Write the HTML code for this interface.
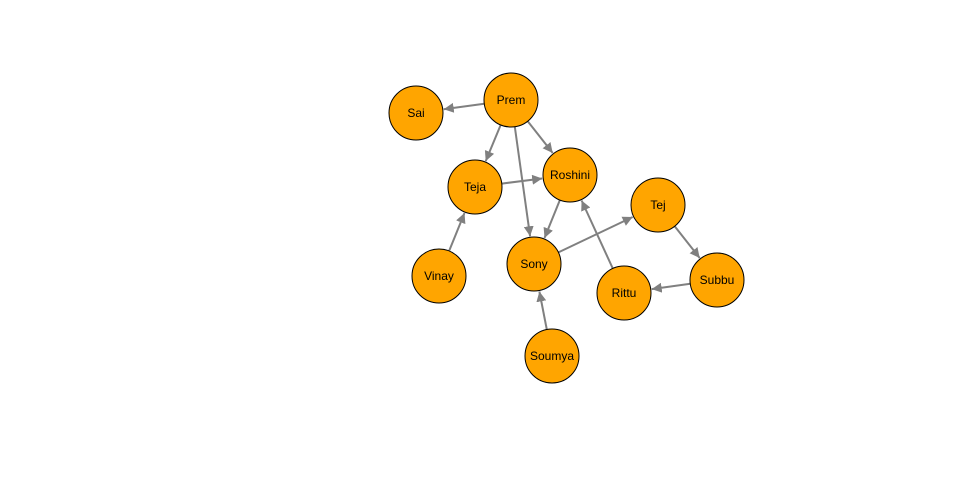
<!DOCTYPE html>
<html><head><meta charset="utf-8"><style>
html,body{margin:0;padding:0;background:#fff;width:960px;height:500px;overflow:hidden}
text{font-family:"Liberation Sans",sans-serif;font-size:12px;fill:#000}
</style></head><body>
<svg width="960" height="500" viewBox="0 0 960 500" xmlns="http://www.w3.org/2000/svg">
<defs><marker id="a" viewBox="0 0 10 10" refX="10" refY="5" markerWidth="5" markerHeight="5" orient="auto" markerUnits="strokeWidth"><path d="M0,0 L10,5 L0,10 z" fill="#808080"/></marker></defs>
<g stroke="#808080" stroke-width="2" marker-end="url(#a)">
<line x1="484.2" y1="103.7" x2="443.7" y2="109.2"/>
<line x1="500.7" y1="124.9" x2="485.7" y2="161.1"/>
<line x1="527.7" y1="121.2" x2="552.7" y2="153"/>
<line x1="514.8" y1="126.7" x2="530.1" y2="236.3"/>
<line x1="501.8" y1="183.6" x2="542.2" y2="178.5"/>
<line x1="559.9" y1="200" x2="544.5" y2="238"/>
<line x1="449.1" y1="251" x2="464.5" y2="213"/>
<line x1="558.4" y1="252.4" x2="632.7" y2="217"/>
<line x1="674.7" y1="226.2" x2="699.7" y2="258"/>
<line x1="690.3" y1="283.7" x2="651.7" y2="289.1"/>
<line x1="612.8" y1="268.5" x2="581.6" y2="200.5"/>
<line x1="546.8" y1="329.5" x2="539.4" y2="291.5"/>
</g>
<g fill="#FFA500" stroke="#000" stroke-width="1">
<circle cx="511" cy="100" r="27"/><circle cx="416" cy="113" r="27"/>
<circle cx="475" cy="187" r="27"/><circle cx="570" cy="175" r="27"/>
<circle cx="658" cy="205" r="27"/><circle cx="439" cy="276" r="27"/>
<circle cx="534" cy="264" r="27"/><circle cx="624" cy="293" r="27"/>
<circle cx="717" cy="280" r="27"/><circle cx="552" cy="356" r="27"/>
</g>
<g text-anchor="middle" dominant-baseline="central">
<text x="511" y="100">Prem</text><text x="416" y="113">Sai</text>
<text x="475" y="187">Teja</text><text x="570" y="175">Roshini</text>
<text x="658" y="205">Tej</text><text x="439" y="276">Vinay</text>
<text x="534" y="264">Sony</text><text x="624" y="293">Rittu</text>
<text x="717" y="280">Subbu</text><text x="552" y="356">Soumya</text>
</g>
</svg>
</body></html>
